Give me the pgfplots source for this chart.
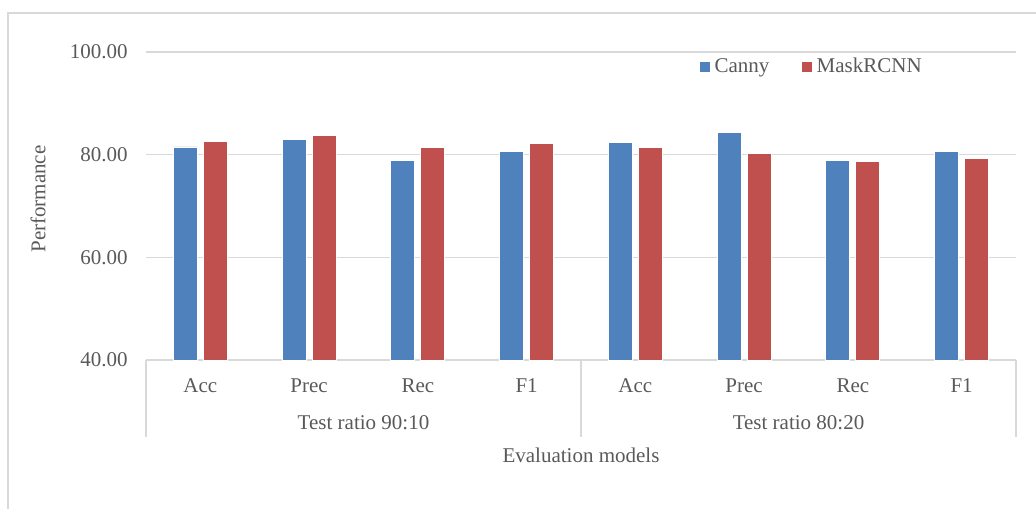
\documentclass[border=0pt]{standalone}
\usepackage{fontspec}
\setmainfont{Liberation Serif}
\usepackage{pgfplots}
\pgfplotsset{compat=1.18}
\definecolor{cblue}{HTML}{4F81BD}
\definecolor{cred}{HTML}{C0504D}
\definecolor{txt}{HTML}{595959}
\definecolor{grd}{HTML}{D9D9D9}
\begin{document}
\fontsize{10.5pt}{12pt}\selectfont
\begin{tikzpicture}
\useasboundingbox (-73pt,-74.5pt) rectangle (445pt,180pt);
\draw[grd, line width=0.75pt] (445pt,173.5pt) -- (-69pt,173.5pt) -- (-69pt,-74.5pt);
\begin{axis}[
  at={(0,0)}, anchor=south west,
  scale only axis, width=435pt, height=154pt,
  ybar=3pt, bar width=12pt,
  xmin=-0.5, xmax=7.5, ymin=40, ymax=100,
  ytick={40,60,80,100},
  yticklabel style={/pgf/number format/fixed, /pgf/number format/fixed zerofill, /pgf/number format/precision=2, /pgf/number format/assume math mode=true, xshift=-5.5pt},
  xtick={0,1,2,3,4,5,6,7},
  xticklabels={Acc,Prec,Rec,F1,Acc,Prec,Rec,F1},
  major tick length=0pt,
  axis line style={draw=none},
  ymajorgrids, grid style={grd, line width=0.75pt},
  tick label style={font=\fontsize{10.5pt}{12pt}\selectfont, text=txt},
  xticklabel style={yshift=-5.5pt},
  ylabel={Performance}, ylabel style={text=txt, font=\fontsize{10.5pt}{12pt}\selectfont, at={(rel axis cs:0,0.5)}, anchor=center, yshift=54pt, xshift=3.5pt},
  legend style={draw=none, fill=none, legend columns=2, at={(0.766,0.952)}, anchor=center, font=\fontsize{10.5pt}{12pt}\selectfont, text=txt,
    /tikz/every even column/.append style={column sep=14pt}},
  legend image code/.code={\fill[#1] (0pt,-2.6pt) rectangle (5.3pt,2.7pt);},
  clip=false,
]
\addplot[fill=cblue, draw=white, line width=0.4pt] coordinates {(0,81.5) (1,82.9) (2,78.9) (3,80.7) (4,82.4) (5,84.3) (6,78.8) (7,80.6)};
\addplot[fill=cred, draw=white, line width=0.4pt] coordinates {(0,82.5) (1,83.8) (2,81.4) (3,82.1) (4,81.4) (5,80.3) (6,78.7) (7,79.35)};
\legend{Canny, MaskRCNN}
\draw[grd, line width=0.75pt] (axis cs:-0.5,40) -- ([yshift=-38.5pt]axis cs:-0.5,40);
\draw[grd, line width=0.75pt] (axis cs:3.5,40) -- ([yshift=-38.5pt]axis cs:3.5,40);
\draw[grd, line width=0.75pt] (axis cs:7.5,40) -- ([yshift=-38.5pt]axis cs:7.5,40);
\node[text=txt, anchor=center] at ([yshift=-31.5pt]axis cs:1.5,40) {Test ratio 90:10};
\node[text=txt, anchor=center] at ([yshift=-31.5pt]axis cs:5.5,40) {Test ratio 80:20};
\node[text=txt, anchor=center] at ([yshift=-47.5pt]axis cs:3.5,40) {Evaluation models};
\end{axis}
\end{tikzpicture}
\end{document}
